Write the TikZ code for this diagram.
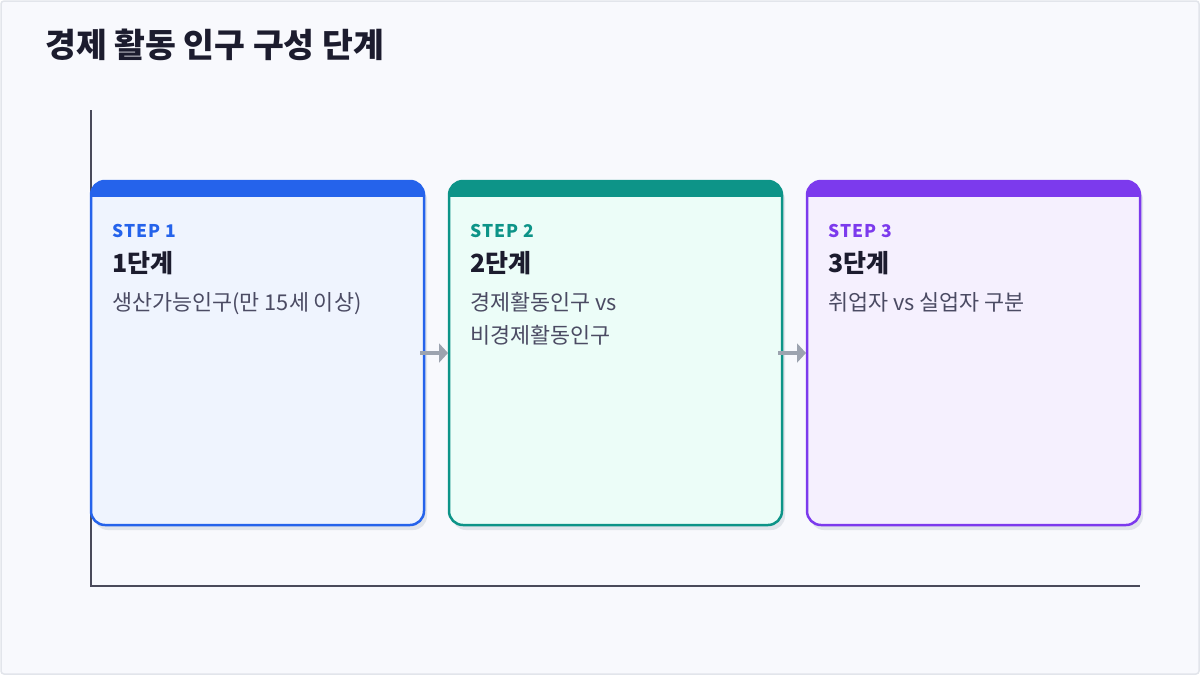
\documentclass[tikz,border=0pt]{standalone}
\usepackage{fontspec}
\setmainfont{Noto Sans CJK KR}
\newfontfamily\stepfont[LetterSpace=6]{Noto Sans CJK KR}
\usetikzlibrary{arrows.meta}
\definecolor{bgc}{HTML}{F8F9FD}
\definecolor{framec}{HTML}{E2E5EB}
\definecolor{titlec}{HTML}{1C1C2E}
\definecolor{descc}{HTML}{4B4B63}
\definecolor{axisc}{HTML}{4A4A5A}
\definecolor{shadowc}{HTML}{E1E5EB}
\definecolor{arrowc}{HTML}{9CA3AF}
\definecolor{blueC}{HTML}{2563EB}
\definecolor{blueF}{HTML}{EFF4FE}
\definecolor{tealC}{HTML}{0D9488}
\definecolor{tealF}{HTML}{ECFDF8}
\definecolor{purpC}{HTML}{7C3AED}
\definecolor{purpF}{HTML}{F5F0FE}
\tikzset{
  card/.style={draw=none, minimum width=333pt, minimum height=344pt, inner sep=0pt, outer sep=0pt, rounded corners=14pt},
  steplabel/.style={anchor=base west, inner sep=0pt, font=\stepfont\bfseries\fontsize{17.5}{21}\selectfont},
  stagelabel/.style={anchor=base west, inner sep=0pt, text=titlec, font=\bfseries\fontsize{25}{30}\selectfont},
  desclabel/.style={anchor=base west, inner sep=0pt, text=descc, align=left, font=\fontsize{21.8}{33}\selectfont},
  flow/.style={draw=arrowc, line width=4pt, -{Triangle[length=9pt,width=19pt]}},
}
\newcommand\mkcard[4]{%
  \fill[shadowc, rounded corners=14pt] (#2+3,186) rectangle (#2+336,530);
  \node[card, fill=#4] (#1) at (#2+166.5,353) {};
  \begin{scope}
    \clip[rounded corners=14pt] (#1.north west) rectangle (#1.south east);
    \fill[#3] (#1.north west) rectangle ([yshift=-16pt]#1.north east);
  \end{scope}
  \draw[#3, line width=2.5pt, rounded corners=14pt] (#1.north west) rectangle (#1.south east);
}
\begin{document}
\begin{tikzpicture}[x=1pt,y=-1pt]
\useasboundingbox (0,0) rectangle (1200,675);
\draw[framec, line width=1.5pt, fill=bgc, rounded corners=3pt] (1,1) rectangle (1199,674);
\node[anchor=base west, inner sep=0pt, text=titlec, font=\bfseries\fontsize{33.5}{38}\selectfont] (title) at (45,57) {경제 활동 인구 구성 단계};
\draw[axisc, line width=2pt] (91,110) -- (91,586) -- (1140,586);
\mkcard{b1}{91}{blueC}{blueF}
\mkcard{b2}{449}{tealC}{tealF}
\mkcard{b3}{807}{purpC}{purpF}
\node[steplabel, text=blueC] (s1) at (112,237) {STEP 1};
\node[stagelabel] (t1) at (112,272) {1단계};
\node[desclabel] (d1) at (112,310) {생산가능인구(만 15세 이상)};
\node[steplabel, text=tealC] (s2) at (470,237) {STEP 2};
\node[stagelabel] (t2) at (470,272) {2단계};
\node[desclabel] (d2) at (470,343) {경제활동인구 vs\\비경제활동인구};
\node[steplabel, text=purpC] (s3) at (828,237) {STEP 3};
\node[stagelabel] (t3) at (828,272) {3단계};
\node[desclabel] (d3) at (828,310) {취업자 vs 실업자 구분};
\draw[flow] ([xshift=-4pt]b1.east) -- ([xshift=-1pt]b2.west);
\draw[flow] ([xshift=-4pt]b2.east) -- ([xshift=-1pt]b3.west);
\end{tikzpicture}
\end{document}
